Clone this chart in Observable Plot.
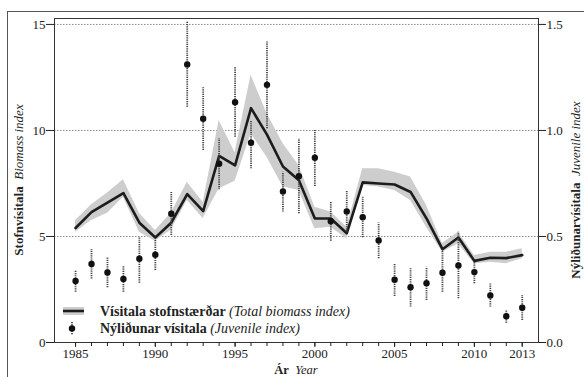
<!DOCTYPE html>
<html><head><meta charset="utf-8">
<script src="https://cdn.jsdelivr.net/npm/d3@7"></script>
<script src="https://cdn.jsdelivr.net/npm/@observablehq/plot@0.6"></script>
<style>
body{margin:0;background:#fff;}
#wrap{position:relative;width:584px;height:377px;overflow:hidden;}
#border{position:absolute;left:7px;top:11px;width:600px;height:420px;border:1px solid #555;}
#wrap svg{position:absolute;left:0;top:0;}
</style></head><body><div id="wrap"><div id="border"></div></div>
<script>
const years = [1985,1986,1987,1988,1989,1990,1991,1992,1993,1994,1995,1996,1997,1998,1999,2000,2001,2002,2003,2004,2005,2006,2007,2008,2009,2010,2011,2012,2013];
const biomass = [5.4,6.15,6.6,7.05,5.65,4.95,5.65,7.0,6.2,8.8,8.35,11.05,9.8,8.3,7.65,5.85,5.85,5.15,7.55,7.5,7.45,7.1,5.85,4.4,4.95,3.85,4.0,3.98,4.12];
const biomassLow = [5.2,5.75,6.1,6.85,5.2,4.78,5.3,6.7,5.85,7.25,7.6,9.85,8.74,7.35,7.17,5.36,5.44,4.89,7.4,7.33,7.17,6.7,5.44,4.26,4.66,3.71,3.79,3.71,3.95];
const biomassHigh = [5.75,6.5,7.05,7.67,6.1,5.28,6.1,7.56,6.6,10.47,8.95,12.6,10.8,9.38,8.35,6.38,6.15,5.44,8.19,8.19,8.03,7.8,6.46,4.67,5.2,4.1,4.26,4.26,4.42];
const juvenile = [0.29,0.37,0.33,0.30,0.395,0.414,0.607,1.311,1.055,0.843,1.133,0.942,1.215,0.712,0.784,0.871,0.572,0.618,0.591,0.481,0.296,0.261,0.280,0.329,0.363,0.332,0.222,0.124,0.164];
const juvenileLow = [0.237,0.300,0.258,0.237,0.280,0.340,0.505,1.110,0.906,0.720,0.968,0.819,1.008,0.615,0.607,0.736,0.478,0.520,0.494,0.395,0.217,0.167,0.198,0.237,0.206,0.277,0.167,0.091,0.104];
const juvenileHigh = [0.336,0.439,0.398,0.360,0.494,0.481,0.709,1.511,1.201,0.961,1.299,1.047,1.417,0.803,0.961,1.0,0.662,0.714,0.685,0.563,0.371,0.348,0.355,0.434,0.520,0.379,0.277,0.151,0.222];
const xTickLabels = [1985,1990,1995,2000,2005,2010,2013];
const leftTicks = [0,5,10,15];
const rightTicks = [0.0,0.5,1.0,1.5];
const gridLines = [5,10,15];

const FONT = "'Liberation Serif','Times New Roman',serif";
const bioRows = years.map((y,i)=>({year:y, v:biomass[i], lo:biomassLow[i], hi:biomassHigh[i]}));
const juvRows = years.map((y,i)=>({year:y, v:juvenile[i]*10, lo:juvenileLow[i]*10, hi:juvenileHigh[i]*10}));

const chart = Plot.plot({
  width:584, height:377, marginLeft:54, marginRight:46, marginTop:18, marginBottom:35,
  style:{fontFamily:FONT, fontSize:"13px", color:"#222", background:"transparent"},
  x:{domain:[1983.68,2014.02]},
  y:{domain:[0,15.28]},
  marks:[
    Plot.ruleY(gridLines,{stroke:"#888",strokeDasharray:"1.5,1.5",strokeWidth:1}),
    Plot.areaY(bioRows,{x:"year",y1:"lo",y2:"hi",fill:"#cdcdcd"}),
    Plot.lineY(bioRows,{x:"year",y:"v",stroke:"#1c1c1c",strokeWidth:2.6}),
    Plot.ruleX(juvRows,{x:"year",y1:"lo",y2:"hi",stroke:"#444",strokeWidth:1.8,strokeDasharray:"1.2,1"}),
    Plot.dot(juvRows,{x:"year",y:"v",r:3.2,fill:"#111"}),
    Plot.frame({stroke:"#333"}),
    Plot.axisY({ticks:leftTicks,tickSize:8,tickPadding:1,label:null,fontSize:13}),
    Plot.axisY({anchor:"right",ticks:rightTicks.map(d=>d*10),tickFormat:d=>(d/10).toFixed(1),tickSize:7,tickPadding:1,label:null,fontSize:13}),
    Plot.axisX({ticks:years,tickSize:4,tickFormat:()=>"",label:null}),
    Plot.axisX({ticks:xTickLabels,tickSize:5,tickPadding:1,tickFormat:d=>String(d),label:null,fontSize:13})
  ]
});
document.getElementById("wrap").appendChild(chart);

const svg = d3.select(chart);
function richText(g, parts){
  parts.forEach(([t,w,s])=>g.append("tspan").attr("font-weight",w).attr("font-style",s).text(t));
}
// axis titles
let t = svg.append("text").attr("transform","translate(23,180) rotate(-90)").attr("text-anchor","middle")
  .attr("font-family",FONT).attr("font-size",13).attr("fill","#222");
richText(t,[["Stofnvísitala","bold","normal"],["\u00a0 Biomass index","normal","italic"]]);
t = svg.append("text").attr("transform","translate(580,190) rotate(-90)").attr("text-anchor","middle")
  .attr("font-family",FONT).attr("font-size",13).attr("fill","#222");
richText(t,[["Nýliðunarvísitala","bold","normal"],["\u00a0 Juvenile index","normal","italic"]]);
t = svg.append("text").attr("x",296).attr("y",374).attr("text-anchor","middle")
  .attr("font-family",FONT).attr("font-size",12.5).attr("fill","#222");
richText(t,[["Ár","bold","normal"],["\u00a0 Year","normal","italic"]]);

// legend
const lg = svg.append("g").attr("font-family",FONT).attr("font-size",14).attr("fill","#222").attr("text-anchor","start");
lg.append("rect").attr("x",63).attr("y",307).attr("width",21).attr("height",8).attr("fill","#cdcdcd");
lg.append("line").attr("x1",63).attr("x2",84).attr("y1",311).attr("y2",311).attr("stroke","#1c1c1c").attr("stroke-width",2.6);
t = lg.append("text").attr("x",100).attr("y",316).attr("text-anchor","start");
richText(t,[["Vísitala stofnstærðar","bold","normal"],[" (Total biomass index)","normal","italic"]]);
lg.append("line").attr("x1",72).attr("x2",72).attr("y1",322).attr("y2",335).attr("stroke","#444").attr("stroke-width",1.8).attr("stroke-dasharray","1.2,1");
lg.append("circle").attr("cx",72).attr("cy",328.5).attr("r",3.2).attr("fill","#111");
t = lg.append("text").attr("x",100).attr("y",333).attr("text-anchor","start");
richText(t,[["Nýliðunar vísitala","bold","normal"],[" (Juvenile index)","normal","italic"]]);
</script>
</body></html>
